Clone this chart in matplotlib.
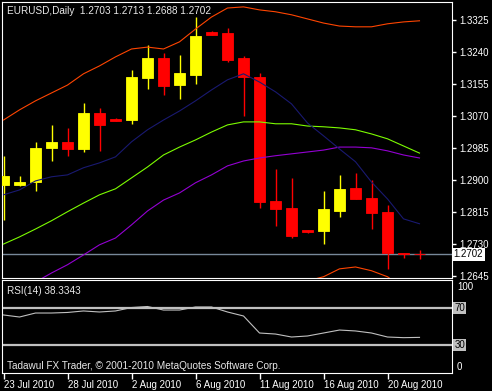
import numpy as np
import matplotlib
matplotlib.use("Agg")
import matplotlib.pyplot as plt

plt.rcParams["font.family"] = ["Liberation Sans", "DejaVu Sans"]

# bars from 23 Jul 2010 to 23 Aug 2010 (daily, incl. sunday bars)
date_labels = ["23 Jul 2010", "28 Jul 2010", "2 Aug 2010", "6 Aug 2010",
               "11 Aug 2010", "16 Aug 2010", "20 Aug 2010"]
date_bars = [0, 4, 8, 12, 16, 20, 24]

opens = [1.2886, 1.2886, 1.2894, 1.2985, 1.3001, 1.2982, 1.3078, 1.3062, 1.3059,
         1.3171, 1.3224, 1.3152, 1.3179, 1.3293, 1.3291, 1.3224, 1.3174, 1.2844,
         1.2825, 1.2767, 1.2764, 1.2817, 1.2878, 1.2852, 1.2815, 1.2705, 1.2703]
highs = [1.2963, 1.2910, 1.3001, 1.3046, 1.3038, 1.3104, 1.3091, 1.3065, 1.3192,
         1.3259, 1.3237, 1.3232, 1.3333, 1.3296, 1.3304, 1.3229, 1.3184, 1.2929,
         1.2905, 1.2767, 1.2870, 1.2913, 1.2918, 1.2900, 1.2833, 1.2705, 1.2713]
lows = [1.2793, 1.2884, 1.2870, 1.2950, 1.2963, 1.2974, 1.2977, 1.3057, 1.3049,
        1.3142, 1.3126, 1.3115, 1.3155, 1.3285, 1.3213, 1.3070, 1.2825, 1.2777,
        1.2745, 1.2759, 1.2729, 1.2801, 1.2849, 1.2769, 1.2663, 1.2692, 1.2688]
closes = [1.2910, 1.2894, 1.2985, 1.3001, 1.2982, 1.3078, 1.3046, 1.3057, 1.3174,
          1.3224, 1.3150, 1.3184, 1.3283, 1.3285, 1.3219, 1.3174, 1.2841, 1.2822,
          1.2751, 1.2761, 1.2822, 1.2876, 1.2849, 1.2812, 1.2705, 1.2703, 1.2702]

band_upper = [1.3059, 1.3086, 1.3110, 1.3131, 1.3152, 1.3182, 1.3203, 1.3227, 1.3248,
              1.3253, 1.3248, 1.3267, 1.3301, 1.3333, 1.3357, 1.3360, 1.3352, 1.3347,
              1.3339, 1.3328, 1.3317, 1.3309, 1.3307, 1.3307, 1.3315, 1.3320, 1.3323]
band_lower = [np.nan] * 18 + [1.2610, 1.2631, 1.2642, 1.2663, 1.2668, 1.2658,
                              1.2642, 1.2612, 1.2594]
ma_navy = [1.2860, 1.2873, 1.2897, 1.2908, 1.2913, 1.2932, 1.2945, 1.2961, 1.3001,
           1.3033, 1.3059, 1.3083, 1.3110, 1.3139, 1.3166, 1.3182, 1.3160, 1.3134,
           1.3102, 1.3051, 1.3017, 1.2982, 1.2948, 1.2894, 1.2849, 1.2796, 1.2783]
ma_green = [1.2729, 1.2748, 1.2769, 1.2791, 1.2815, 1.2838, 1.2860, 1.2876, 1.2905,
            1.2934, 1.2966, 1.2987, 1.3006, 1.3027, 1.3046, 1.3054, 1.3054, 1.3049,
            1.3049, 1.3043, 1.3041, 1.3038, 1.3033, 1.3022, 1.3009, 1.2990, 1.2971]
ma_purple = [1.2580, 1.2604, 1.2628, 1.2652, 1.2674, 1.2700, 1.2727, 1.2745, 1.2780,
             1.2817, 1.2846, 1.2865, 1.2892, 1.2913, 1.2937, 1.2950, 1.2958, 1.2964,
             1.2969, 1.2974, 1.2979, 1.2987, 1.2987, 1.2985, 1.2977, 1.2966, 1.2958]
rsi = [62.4, 60.2, 64.5, 64.5, 65.1, 66.7, 65.6, 66.7, 70.4, 71.5, 67.7, 67.7, 71.0,
       71.0, 65.6, 61.3, 43.0, 41.9, 38.7, 39.8, 43.0, 46.2, 45.2, 43.0, 38.7, 38.0,
       38.3]

price_ticks = [1.2645, 1.2730, 1.2815, 1.2900, 1.2985, 1.3070, 1.3155, 1.3240, 1.3325]
last_price = 1.2702
rsi_levels = [70, 30]

W, H = 492, 391


def fig_rect(left, top, right, bottom):
    return [left / W, 1 - bottom / H, (right - left) / W, (bottom - top) / H]


fig = plt.figure(figsize=(W / 100, H / 100), dpi=100, facecolor="black")
ax = fig.add_axes(fig_rect(2, 2, 452, 277.5), facecolor="black")
ax_rsi = fig.add_axes(fig_rect(2, 280, 452, 373), facecolor="black")

x = np.arange(len(opens))
xlim = (-1.5 / 16, -1.5 / 16 + 450 / 16)

# candles
colors = ["#FFFF00" if c >= o else "#FF0000" for o, c in zip(opens, closes)]
ax.vlines(x, lows, highs, colors=colors, linewidth=1, zorder=2)
bottoms = np.minimum(opens, closes)
heights = np.abs(np.array(closes) - np.array(opens))
ax.bar(x, heights, bottom=bottoms, width=0.69, color=colors, edgecolor=colors,
       linewidth=0.6, zorder=3)

# indicators
ax.axhline(last_price, color="#778899", linewidth=1, zorder=1)
ax.plot(x, band_upper, color="#FF4500", linewidth=0.8, zorder=4)
ax.plot(x, band_lower, color="#FF4500", linewidth=0.8, zorder=4)
ax.plot(x, ma_green, color="#7CFC00", linewidth=0.8, zorder=4)
ax.plot(x, ma_purple, color="#9400D3", linewidth=0.8, zorder=4)
ax.plot(x, ma_navy, color="#191970", linewidth=0.8, zorder=4)

ax.set_xlim(*xlim)
ax.set_ylim(1.2640, 1.3373)
ax.set_xticks([])
ax.yaxis.tick_right()
ax.set_yticks(price_ticks)
ax.set_yticklabels([f"{p:.4f}" for p in price_ticks])
ax.tick_params(axis="y", colors="white", labelcolor="white", length=3, width=1,
               pad=2, labelsize=7)
for spine in ax.spines.values():
    spine.set_color("white")

ax.text(1.003, last_price, f"{last_price:.4f}", transform=ax.get_yaxis_transform(),
        ha="left", va="center", fontsize=7, color="black",
        bbox=dict(facecolor="white", edgecolor="none", pad=1.2))

fig.text(7 / W, 1 - 14.5 / H, "EURUSD,Daily  1.2703 1.2713 1.2688 1.2702",
         color="#E8E8E8", fontsize=7.2, va="baseline")

# RSI panel
ax_rsi.plot(x, rsi, color="#C0C0C0", linewidth=0.8)
for lvl in rsi_levels:
    ax_rsi.axhline(lvl, color="#C0C0C0", linewidth=1.6)
ax_rsi.set_xlim(*xlim)
ax_rsi.set_ylim(0, 100)
ax_rsi.set_yticks([])
ax_rsi.set_xticks(date_bars)
ax_rsi.set_xticklabels(date_labels)
for lbl in ax_rsi.get_xticklabels():
    lbl.set_horizontalalignment("left")
ax_rsi.tick_params(axis="x", colors="white", labelcolor="white", length=4, width=1,
                   pad=1, labelsize=7)
for spine in ax_rsi.spines.values():
    spine.set_color("white")

ytr = ax_rsi.get_yaxis_transform()
ax_rsi.text(1.011, 98, "100", transform=ytr, ha="left", va="top", fontsize=7,
            color="white")
ax_rsi.text(1.011, 1, "0", transform=ytr, ha="left", va="bottom", fontsize=7,
            color="white")
for lvl in rsi_levels:
    ax_rsi.text(1.005, lvl, str(lvl), transform=ytr, ha="left", va="center",
                fontsize=7, color="black",
                bbox=dict(facecolor="#C0C0C0", edgecolor="none", pad=0.8))

fig.text(7 / W, 1 - 294 / H, "RSI(14) 38.3343", color="#E8E8E8", fontsize=7.2,
         va="baseline")
fig.text(7 / W, 1 - 369.3 / H,
         "Tadawul FX Trader, \u00a9 2001-2010 MetaQuotes Software Corp.",
         color="#E8E8E8", fontsize=7.2, va="baseline")

fig.savefig("out.png", dpi=100, facecolor="black")
